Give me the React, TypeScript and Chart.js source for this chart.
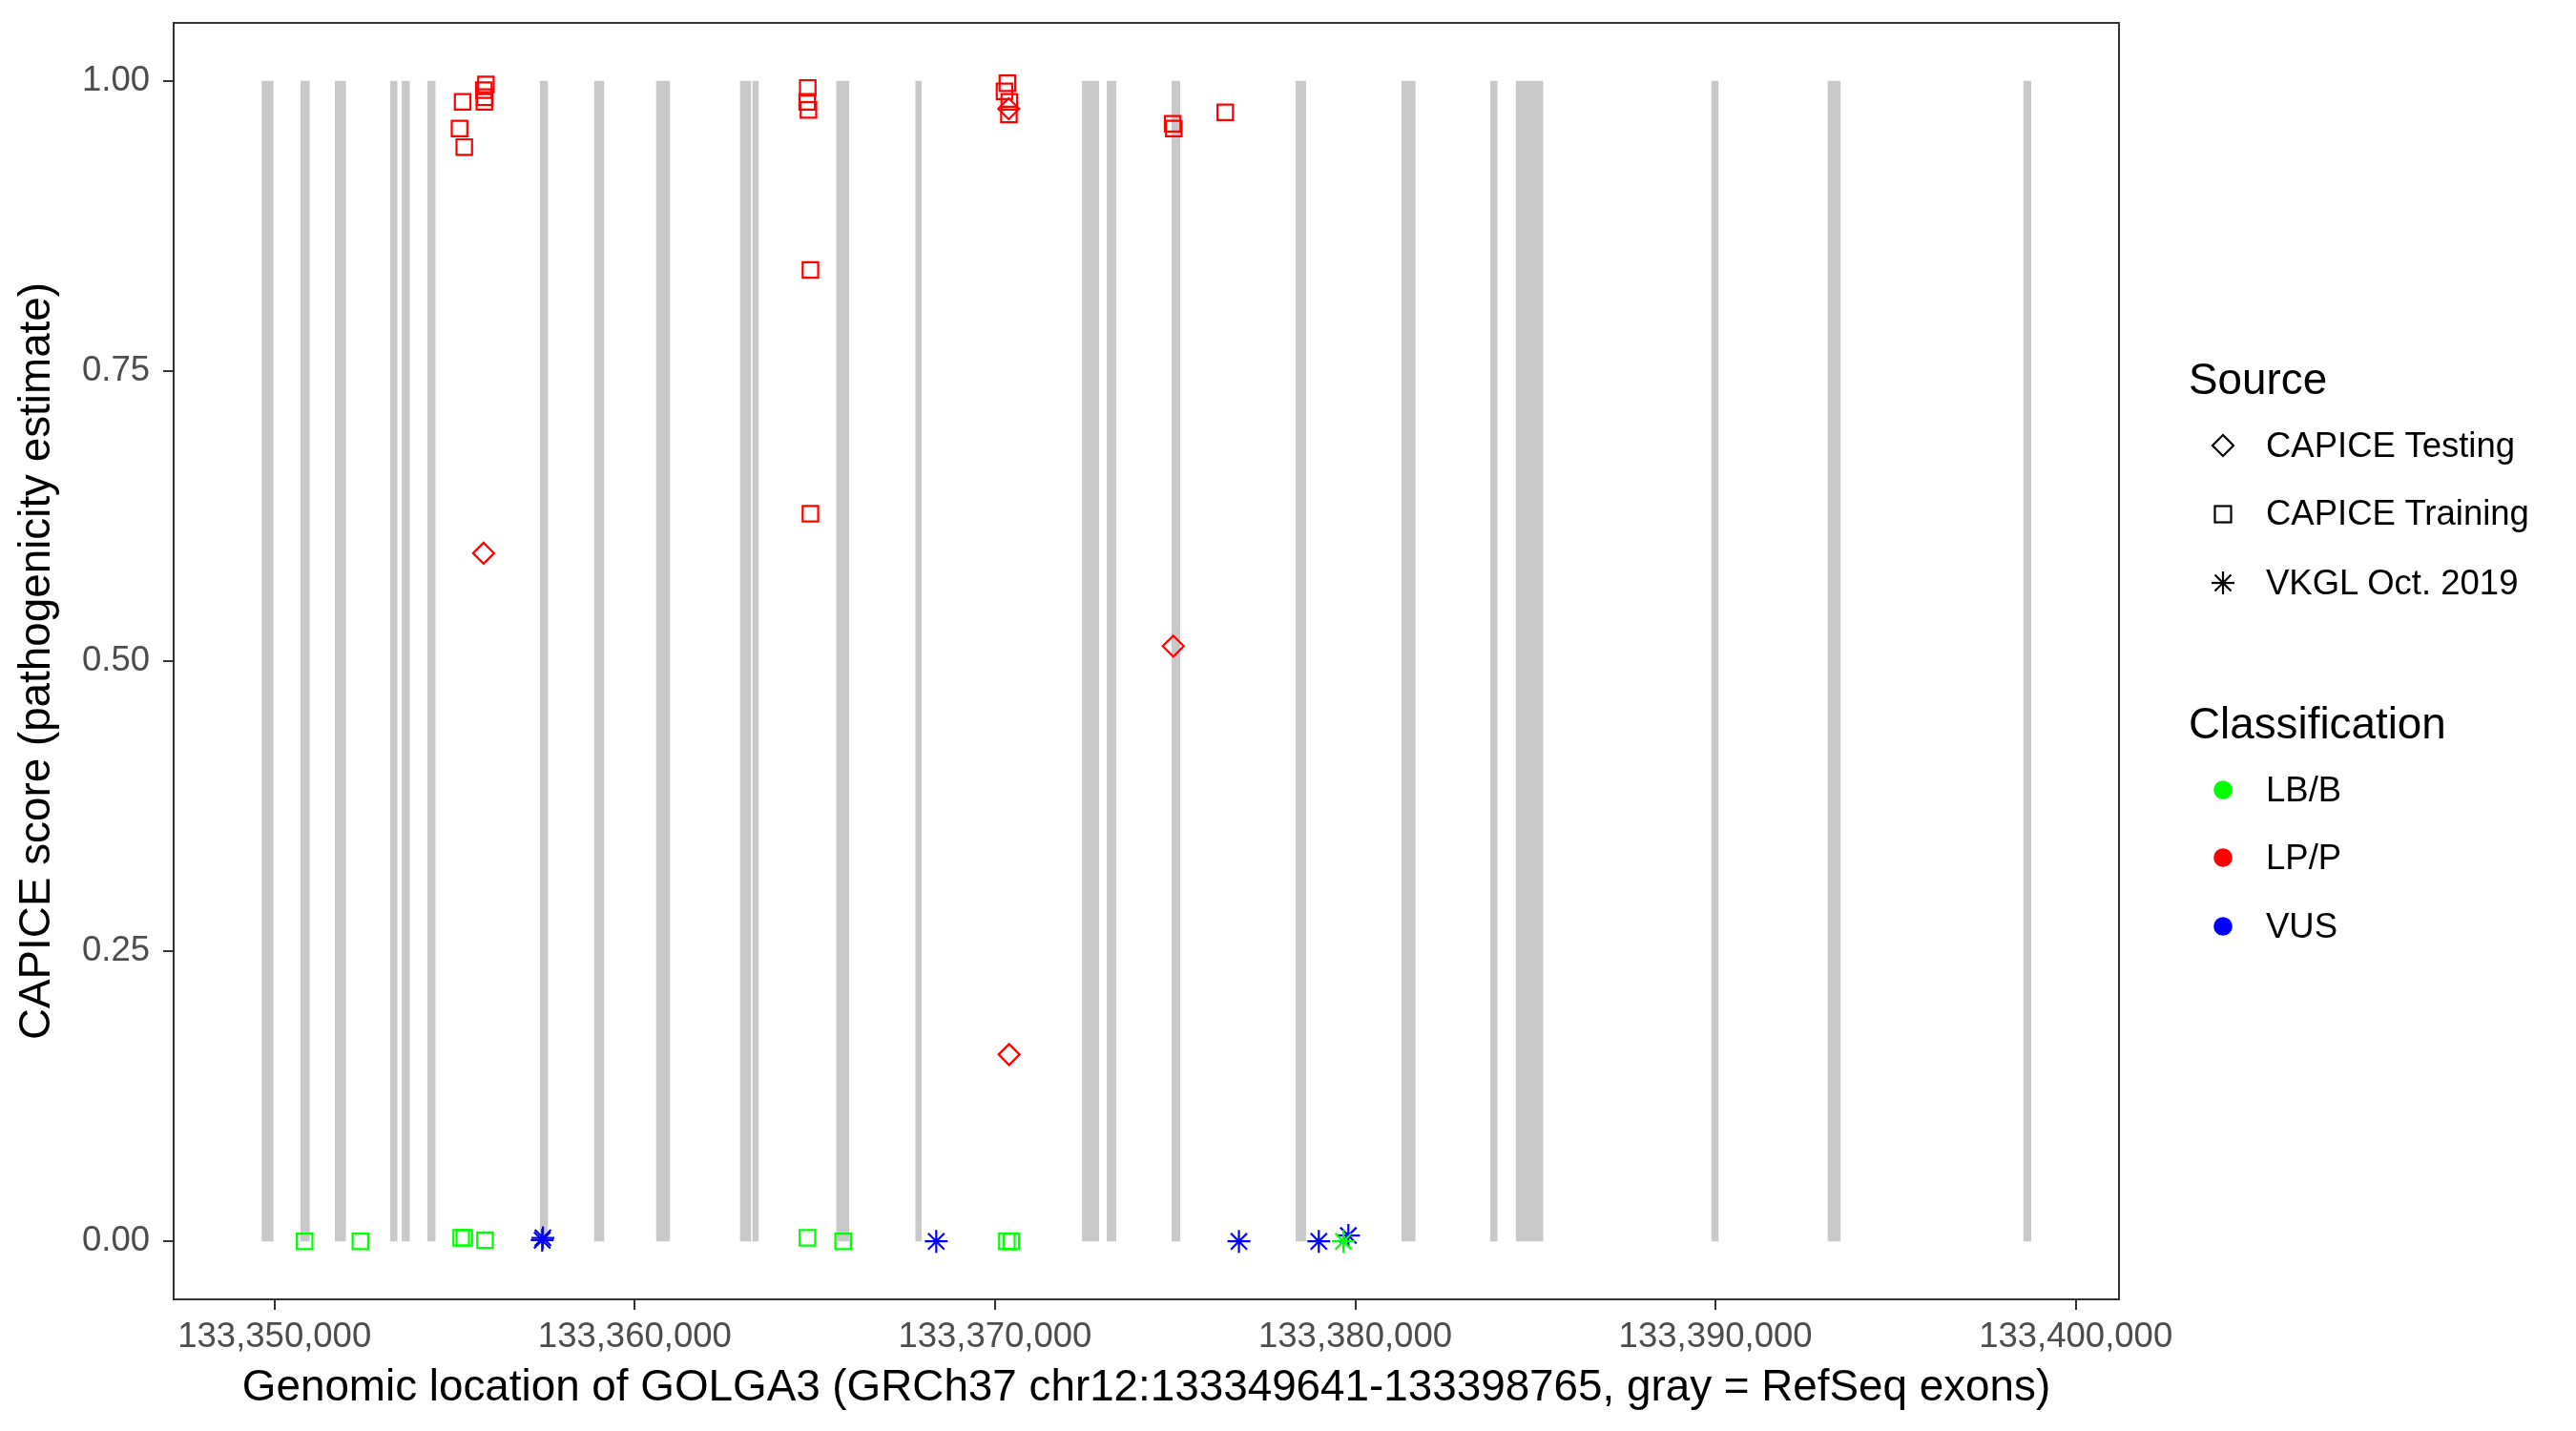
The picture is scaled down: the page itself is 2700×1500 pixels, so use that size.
import React, { useEffect, useRef } from "react";
import { Chart, registerables } from "chart.js";

Chart.register(...registerables);

// ---------------- data ----------------
const exonStarts = [
  133349641, 133350717, 133351670, 133353204, 133353522, 133354236, 133357359, 133358867,
  133360587, 133362916, 133363260, 133365588, 133367785, 133372415, 133373103, 133374902,
  133378342, 133381279, 133383741, 133384455, 133389879, 133393107, 133398540,
];
const exonEnds = [
  133349976, 133350982, 133351987, 133353416, 133353760, 133354475, 133357597, 133359158,
  133360984, 133363233, 133363445, 133365959, 133367970, 133372891, 133373368, 133375140,
  133378633, 133381676, 133383953, 133385222, 133390090, 133393477, 133398765,
];

// CAPICE Testing, LP/P (open diamonds, red)
const testingLPx = [133355803, 133370380, 133370391, 133374948];
const testingLPy = [0.593, 0.976, 0.161, 0.513];

// CAPICE Training, LP/P (open squares, red)
const trainingLPx = [
  133355222, 133355136, 133355268, 133355869, 133355811, 133355837, 133355824,
  133364802, 133364786, 133364821, 133364876, 133364876,
  133370343, 133370264, 133370396, 133370386,
  133374932, 133374963, 133376390,
];
const trainingLPy = [
  0.982, 0.959, 0.943, 0.997, 0.992, 0.986, 0.982,
  0.994, 0.982, 0.975, 0.837, 0.627,
  0.998, 0.991, 0.982, 0.971,
  0.963, 0.959, 0.973,
];

// CAPICE Training, LB/B (open squares, green)
const trainingLBx = [
  133350836, 133352384, 133355181, 133355268, 133355843, 133364794, 133365784, 133370330, 133370452,
];
const trainingLBy = [0.0, 0.0, 0.003, 0.003, 0.001, 0.003, 0.0, 0.0, 0.0];

// VKGL Oct. 2019, LB/B (asterisk, green)
const vkglLBx = [133379671];
const vkglLBy = [0.0];

// VKGL Oct. 2019, VUS (asterisk, blue)
const vkglVUSx = [133357430, 133357451, 133368369, 133376771, 133378988, 133379809];
const vkglVUSy = [0.001, 0.003, 0.0, 0.0, 0.0, 0.005];

const xTicks = [133350000, 133360000, 133370000, 133380000, 133390000, 133400000];
const yTicks = [0, 0.25, 0.5, 0.75, 1];

const xTitle =
  "Genomic location of GOLGA3 (GRCh37 chr12:133349641-133398765, gray = RefSeq exons)";
const yTitle = "CAPICE score (pathogenicity estimate)";

const sourceLabels = ["CAPICE Testing", "CAPICE Training", "VKGL Oct. 2019"];
const classLabels = ["LB/B", "LP/P", "VUS"];
const classColors = ["#00FF00", "#FF0000", "#0000FF"];

// ---------------- style ----------------
const FONT = "'Liberation Sans', Arial, Helvetica, sans-serif";
const TICK_SIZE = 36.5;
const TITLE_SIZE = 45.8;
const W = 2700;
const H = 1500;

const pts = (xs: number[], ys: number[]) => xs.map((x, i) => ({ x, y: ys[i] }));

const panelBorder = {
  id: "panelBorder",
  afterDatasetsDraw(chart: any) {
    const { ctx, chartArea } = chart;
    ctx.save();
    ctx.strokeStyle = "#333333";
    ctx.lineWidth = 2;
    ctx.strokeRect(
      chartArea.left,
      chartArea.top,
      chartArea.right - chartArea.left,
      chartArea.bottom - chartArea.top
    );
    ctx.restore();
  },
};

function pointSet(label: string, xs: number[], ys: number[], style: string, color: string, r: number) {
  return {
    type: "scatter",
    label,
    data: pts(xs, ys),
    pointStyle: style,
    pointRadius: r,
    pointHoverRadius: r,
    pointBorderColor: color,
    pointBackgroundColor: "rgba(0,0,0,0)",
    pointBorderWidth: 2.2,
    showLine: false,
    order: 1,
  };
}

function Symbol({ kind, color }: { kind: string; color?: string }) {
  const s = 30;
  let inner: any = null;
  if (kind === "diamond") {
    inner = <polygon points="15,4 26,15 15,26 4,15" fill="none" stroke="#000" strokeWidth={2.2} />;
  } else if (kind === "square") {
    inner = <rect x={6.5} y={6.5} width={17} height={17} fill="none" stroke="#000" strokeWidth={2.2} />;
  } else if (kind === "star") {
    const r = 12;
    const d = r * Math.SQRT1_2;
    inner = (
      <g stroke="#000" strokeWidth={2.2}>
        <line x1={15 - r} y1={15} x2={15 + r} y2={15} />
        <line x1={15} y1={15 - r} x2={15} y2={15 + r} />
        <line x1={15 - d} y1={15 - d} x2={15 + d} y2={15 + d} />
        <line x1={15 - d} y1={15 + d} x2={15 + d} y2={15 - d} />
      </g>
    );
  } else {
    inner = <circle cx={15} cy={15} r={9.8} fill={color} />;
  }
  return (
    <svg width={s} height={s} viewBox="0 0 30 30" style={{ display: "block" }}>
      {inner}
    </svg>
  );
}

export default function App() {
  const ref = useRef<HTMLCanvasElement | null>(null);

  useEffect(() => {
    if (!ref.current) return;
    const exonSets = exonStarts.map((s, i) => ({
      type: "line",
      label: "exon" + i,
      data: [
        { x: s, y: 1 },
        { x: exonEnds[i], y: 1 },
      ],
      fill: { value: 0 },
      backgroundColor: "#C9C9C9",
      borderWidth: 0,
      borderColor: "rgba(0,0,0,0)",
      pointRadius: 0,
      pointHoverRadius: 0,
      tension: 0,
      order: 100,
    }));

    const chart = new Chart(ref.current, {
      type: "scatter",
      data: {
        datasets: [
          pointSet("CAPICE Testing LP/P", testingLPx, testingLPy, "rectRot", "#FF0000", 11),
          pointSet("CAPICE Training LP/P", trainingLPx, trainingLPy, "rect", "#FF0000", 11.5),
          pointSet("CAPICE Training LB/B", trainingLBx, trainingLBy, "rect", "#00FF00", 11.5),
          pointSet("VKGL LB/B", vkglLBx, vkglLBy, "star", "#00FF00", 12),
          pointSet("VKGL VUS", vkglVUSx, vkglVUSy, "star", "#0000FF", 12),
          ...exonSets,
        ] as any,
      },
      options: {
        animation: false,
        responsive: false,
        events: [],
        layout: { padding: { left: 0, top: 24, right: W - 2221, bottom: 0 } },
        plugins: {
          legend: { display: false },
          tooltip: { enabled: false },
        },
        scales: {
          x: {
            type: "linear",
            min: 133347200,
            max: 133401200,
            afterBuildTicks: (s: any) => {
              s.ticks = xTicks.map((v) => ({ value: v }));
            },
            afterFit: (s: any) => {
              s.height = H - 1362;
              s.paddingLeft = 0;
              s.paddingRight = 0;
            },
            ticks: {
              autoSkip: false,
              maxRotation: 0,
              padding: 7,
              color: "#4D4D4D",
              font: { family: FONT, size: TICK_SIZE },
              callback: (v: any) => Number(v).toLocaleString("en-US"),
            },
            grid: { drawOnChartArea: false, drawTicks: true, tickLength: 11, color: "#333333", lineWidth: 2 },
            border: { display: false },
            title: {
              display: true,
              text: xTitle,
              color: "#000000",
              font: { family: FONT, size: TITLE_SIZE },
              padding: { top: 0, bottom: 17 },
            },
          },
          y: {
            type: "linear",
            min: -0.05,
            max: 1.05,
            afterBuildTicks: (s: any) => {
              s.ticks = yTicks.map((v) => ({ value: v }));
            },
            afterFit: (s: any) => {
              s.width = 182;
              s.paddingTop = 0;
              s.paddingBottom = 0;
            },
            ticks: {
              padding: 14,
              color: "#4D4D4D",
              font: { family: FONT, size: TICK_SIZE },
              callback: (v: any) => Number(v).toFixed(2),
            },
            grid: { drawOnChartArea: false, drawTicks: true, tickLength: 11, color: "#333333", lineWidth: 2 },
            border: { display: false },
            title: {
              display: true,
              text: yTitle,
              color: "#000000",
              font: { family: FONT, size: TITLE_SIZE },
              padding: { top: 12, bottom: 0 },
            },
          },
        },
      } as any,
      plugins: [panelBorder],
    });
    return () => chart.destroy();
  }, []);

  const legendTitle = (text: string, top: number) => (
    <div
      style={{
        position: "absolute",
        left: 2294,
        top,
        fontFamily: FONT,
        fontSize: TITLE_SIZE,
        lineHeight: TITLE_SIZE + "px",
        color: "#000",
        whiteSpace: "nowrap",
      }}
    >
      {text}
    </div>
  );

  const legendItem = (key: string, sym: any, text: string, cy: number) => (
    <React.Fragment key={key}>
      <div style={{ position: "absolute", left: 2330 - 15, top: cy - 15 }}>{sym}</div>
      <div
        style={{
          position: "absolute",
          left: 2375,
          top: cy - TICK_SIZE / 2,
          fontFamily: FONT,
          fontSize: TICK_SIZE,
          lineHeight: TICK_SIZE + "px",
          color: "#000",
          whiteSpace: "nowrap",
        }}
      >
        {text}
      </div>
    </React.Fragment>
  );

  const sourceKinds = ["diamond", "square", "star"];
  const sourceY = [467, 538.5, 611];
  const classY = [828, 899, 971];

  return (
    <div style={{ position: "fixed", left: 0, top: 0, width: W, height: H, background: "#fff" }}>
      <canvas ref={ref} width={W} height={H} style={{ width: W, height: H, display: "block" }} />
      {legendTitle("Source", 375)}
      {sourceLabels.map((t, i) =>
        legendItem("s" + i, <Symbol kind={sourceKinds[i]} />, t, sourceY[i])
      )}
      {legendTitle("Classification", 736)}
      {classLabels.map((t, i) =>
        legendItem("c" + i, <Symbol kind="dot" color={classColors[i]} />, t, classY[i])
      )}
    </div>
  );
}
